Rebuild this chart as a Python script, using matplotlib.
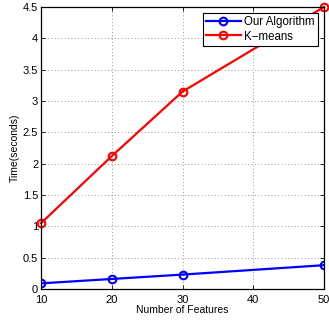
"""
Running time versus number of features
"""

import matplotlib

matplotlib.use("Agg")
from matplotlib import pyplot as plt

features = [10, 20, 30, 40, 50]
feature_points = [10, 20, 30, 50]
ours = [0.09, 0.16, 0.23, 0.38]
kmeans = [1.05, 2.12, 3.15, 4.5]
y_ticks = [0, 0.5, 1, 1.5, 2, 2.5, 3, 3.5, 4, 4.5]
y_labels = ["0", "0.5", "1", "1.5", "2", "2.5", "3", "3.5", "4", "4.5"]


def main():
    plt.rcParams["font.family"] = ["Liberation Sans", "DejaVu Sans"]
    fig = plt.figure(figsize=(3.29, 3.22), dpi=100)
    ax = fig.add_axes([41 / 329, 1 - 289 / 322, 283 / 329, 282 / 322])

    ax.plot(feature_points, ours, color="blue", lw=1.6, marker="o", ms=5.5,
            mfc="none", mew=1.5, label="Our Algorithm")
    ax.plot(feature_points, kmeans, color="red", lw=1.6, marker="o", ms=5.5,
            mfc="none", mew=1.5, label="K\u2212means", clip_on=False)

    ax.set_xlim(10, 50)
    ax.set_ylim(0, 4.5)
    ax.set_xticks(features)
    ax.set_yticks(y_ticks)
    ax.set_yticklabels(y_labels)
    ax.tick_params(direction="in", labelsize=8, length=3, width=0.6, pad=2,
                   top=True, right=True)
    ax.tick_params(axis="x", pad=4)
    ax.grid(True, linestyle=(0, (1, 3)), color="#777777", linewidth=0.6)
    for spine in ax.spines.values():
        spine.set_linewidth(0.9)

    ax.set_xlabel("Number of Features", fontsize=7.5, labelpad=0)
    ax.set_ylabel("Time(seconds)", fontsize=7.5, labelpad=2)

    leg = ax.legend(loc="upper right", fontsize=8.3, fancybox=False,
                    edgecolor="black", framealpha=1, borderpad=0.3,
                    handlelength=3, handletextpad=0.3, labelspacing=0.2,
                    borderaxespad=0.5)
    leg.get_frame().set_linewidth(0.8)

    fig.savefig("out.png", dpi=100)


if __name__ == "__main__":
    main()
